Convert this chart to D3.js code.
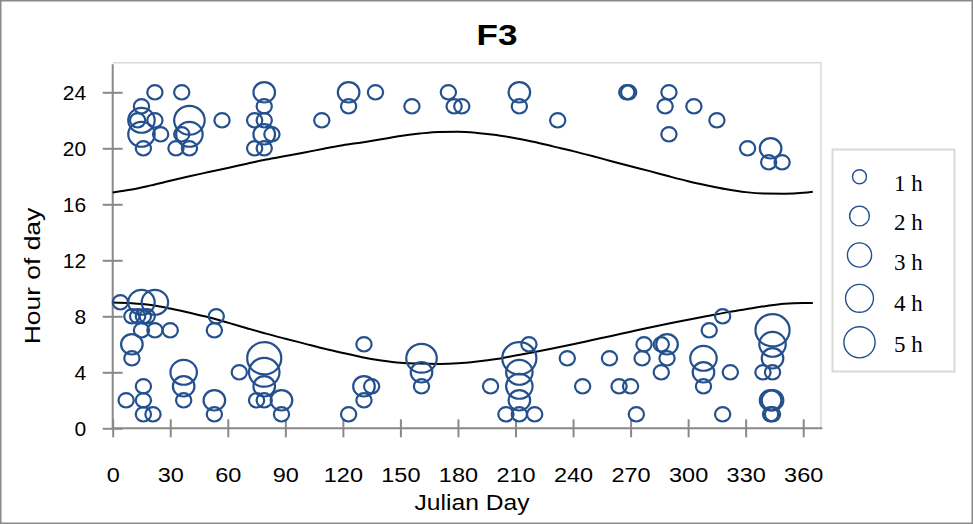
<!DOCTYPE html>
<html>
  <head>
    <meta charset="utf-8">
    <style>
      body { margin: 0; background: #ffffff; }
      svg { display: block; }
    </style>
  </head>
  <body>

    <script type="text/javascript" src="https://cdn.jsdelivr.net/npm/d3@7/dist/d3.min.js"></script>

    <script>

    // *** DATA ***

    // Bubbles: julian day, hour of day, duration (h)
    var bubbleDays = [
      22, 36, 79, 123, 15, 79, 123,
      13, 15, 22, 40, 57, 74, 79, 109,
      15, 25, 36, 40, 79, 83,
      16, 33, 40, 74, 79,
      137, 156, 175, 178, 182, 212, 212, 232,
      268, 269, 290, 288, 303, 315, 290, 331, 343, 342, 349,
      4, 15, 22,
      10, 13, 16, 18, 54,
      15, 22, 30, 53,
      10, 10,
      37, 37, 37, 66,
      79, 79, 79, 75, 79, 88, 88,
      53, 53,
      7, 16, 16, 16, 21,
      123,
      131, 131, 135, 131,
      161, 161, 161,
      197,
      212, 212, 212, 212, 212, 205, 220, 217,
      237, 245,
      259, 264, 270, 273,
      277, 276,
      286, 289, 289, 286,
      311, 318,
      308, 308, 308,
      322, 318,
      344, 344, 344, 339, 344,
      343, 344, 343, 344
    ];
    var bubbleHours = [
      24, 24, 24, 24, 23, 23, 23,
      22, 22, 22, 22, 22, 22, 22, 22,
      21, 21, 21, 21, 21, 21,
      20, 20, 20, 20, 20,
      24, 23, 24, 23, 23, 24, 23, 22,
      24, 24, 24, 23, 23, 22, 21, 20, 20, 19, 19,
      9, 9, 9,
      8, 8, 8, 8, 8,
      7, 7, 7, 7,
      6, 5,
      4, 3, 2, 4,
      5, 4, 3, 2, 2, 2, 1,
      2, 1,
      2, 3, 2, 1, 1,
      1,
      6, 3, 3, 2,
      5, 4, 3,
      3,
      5, 4, 3, 2, 1, 1, 1, 6,
      5, 3,
      5, 3, 3, 1,
      6, 5,
      6, 6, 5, 4,
      7, 8,
      5, 4, 3,
      4, 1,
      7, 6, 5, 4, 4,
      2, 2, 1, 1
    ];
    var bubbleDurations = [
      1, 1, 2, 2, 1, 1, 1,
      1, 3, 1, 4, 1, 1, 1, 1,
      3, 1, 1, 3, 2, 1,
      1, 1, 1, 1, 1,
      1, 1, 1, 1, 1, 2, 1, 1,
      1, 1, 1, 1, 1, 1, 1, 1, 2, 1, 1,
      1, 3, 3,
      1, 1, 1, 1, 1,
      1, 1, 1, 1,
      2, 1,
      3, 2, 1, 1,
      5, 4, 2, 1, 1, 2, 1,
      2, 1,
      1, 1, 1, 1, 1,
      1,
      1, 2, 1, 1,
      4, 2, 1,
      1,
      5, 3, 3, 2, 1, 1, 1, 1,
      1, 1,
      1, 1, 1, 1,
      1, 1,
      1, 2, 1, 1,
      1, 1,
      3, 2, 1,
      1, 1,
      5, 3, 2, 1, 1,
      2, 2, 1, 1
    ];

    // Sunrise / sunset curves (hour of day)
    var lineDays = [0, 10, 20, 30, 40, 50, 60, 70, 80, 90, 100, 110, 120, 130, 140, 150, 160, 170, 180,
                    190, 200, 210, 220, 230, 240, 250, 260, 270, 280, 290, 300, 310, 320, 330, 340, 350, 360, 365];
    var sunriseHours = [8.98, 8.93, 8.80, 8.55, 8.25, 7.93, 7.55, 7.15, 6.76, 6.40, 6.05, 5.70, 5.38, 5.08, 4.85, 4.68, 4.62, 4.60, 4.64,
                        4.77, 4.95, 5.20, 5.45, 5.72, 6.00, 6.30, 6.60, 6.90, 7.20, 7.48, 7.75, 8.02, 8.28, 8.50, 8.72, 8.90, 8.95, 8.95];
    var sunsetHours = [16.85, 17.05, 17.35, 17.68, 18.00, 18.30, 18.60, 18.90, 19.20, 19.45, 19.70, 19.97, 20.22, 20.42, 20.64, 20.88, 21.05, 21.17, 21.18,
                       21.10, 20.95, 20.72, 20.45, 20.12, 19.80, 19.45, 19.08, 18.72, 18.37, 18.00, 17.65, 17.35, 17.08, 16.87, 16.77, 16.76, 16.82, 16.90];

    // Ticks and legend
    var xTicks = [0, 30, 60, 90, 120, 150, 180, 210, 240, 270, 300, 330, 360];
    var yTicks = [0, 4, 8, 12, 16, 20, 24];
    var legendDurations = [1, 2, 3, 4, 5];
    var legendLabels = ['1 h', '2 h', '3 h', '4 h', '5 h'];

    // *** LAYOUT ***

    var W = 973, H = 524;
    var plotLeft = 112.7, plotRight = 822.4, plotTop = 64.3, plotBottom = 428.3;
    var axisColor = '#898989';
    var bubbleColor = '#24508e';
    var textStretch = 1.12;   // the picture is a bit wider than normal type
    var sansFont = '"Liberation Sans", Arial, sans-serif';

    var x = d3.scaleLinear().domain([0, 370]).range([plotLeft, plotRight]);
    var y = d3.scaleLinear().domain([0, 26]).range([plotBottom, plotTop]);
    var rScale = d3.scaleSqrt().domain([0, 5]).range([0, 16.1]);

    var svg = d3.select('body').append('svg')
      .attr('width', W)
      .attr('height', H);

    svg.append('rect')
      .attr('width', W).attr('height', H)
      .style('fill', '#ffffff');

    // outer chart border
    svg.append('rect')
      .attr('x', 0.75).attr('y', 0.75)
      .attr('width', W - 1.5).attr('height', H - 1.5)
      .style('fill', 'none')
      .style('stroke', axisColor)
      .style('stroke-width', 1.5);

    // plot area frame (top and right)
    svg.append('path')
      .attr('d', 'M' + plotLeft + ',' + (plotTop - 1.5) + 'H' + (plotRight - 1.5) + 'V' + plotBottom)
      .style('fill', 'none')
      .style('stroke', '#d9d9d9')
      .style('stroke-width', 1.5);

    // TITLE
    svg.append('text')
      .attr('transform', 'translate(497,44.5) scale(1.17,1)')
      .attr('text-anchor', 'middle')
      .style('font-family', sansFont)
      .style('font-weight', 'bold')
      .style('font-size', '30px')
      .text('F3');

    // AXES
    var xAxis = svg.append('g')
      .attr('transform', 'translate(0,' + plotBottom + ')')
      .call(d3.axisBottom(x).tickValues(xTicks).tickSize(9).tickFormat(d3.format('d')));
    xAxis.select('.domain').attr('d', 'M' + plotLeft + ',0H' + plotRight);
    xAxis.selectAll('.tick line').attr('y1', -9).attr('y2', 9);
    xAxis.selectAll('.tick text')
      .attr('y', 0).attr('dy', 0)
      .attr('transform', 'translate(0,53.5) scale(' + textStretch + ',1)');

    var yAxis = svg.append('g')
      .attr('transform', 'translate(' + plotLeft + ',0)')
      .call(d3.axisLeft(y).tickValues(yTicks).tickSize(10));
    yAxis.select('.domain').attr('d', 'M0,' + plotTop + 'V' + plotBottom);
    yAxis.selectAll('.tick line').attr('x1', -10).attr('x2', 10);
    yAxis.selectAll('.tick text').attr('x', -26.5).attr('dy', '0.36em');

    svg.selectAll('.domain, .tick line')
      .style('stroke', axisColor)
      .style('stroke-width', 2);
    svg.selectAll('.tick text')
      .style('font-family', sansFont)
      .style('font-size', '21px')
      .style('fill', '#000000');

    // axis titles
    svg.append('text')
      .attr('transform', 'translate(472,510) scale(' + textStretch + ',1)')
      .attr('text-anchor', 'middle')
      .style('font-family', sansFont)
      .style('font-size', '22px')
      .text('Julian Day');

    svg.append('text')
      .attr('transform', 'translate(40,276) rotate(-90) scale(1.2,1)')
      .attr('text-anchor', 'middle')
      .style('font-family', sansFont)
      .style('font-size', '22px')
      .text('Hour of day');

    // SUNRISE / SUNSET LINES
    var line = d3.line()
      .x(function(d){ return x(d[0]); })
      .y(function(d){ return y(d[1]); })
      .curve(d3.curveMonotoneX);

    [sunriseHours, sunsetHours].forEach(function(series){
      svg.append('path')
        .datum(lineDays.map(function(d, ii){ return [d, series[ii]]; }))
        .attr('d', line)
        .style('fill', 'none')
        .style('stroke', '#000000')
        .style('stroke-width', 2);
    });

    // BUBBLES
    var bubbles = bubbleDays.map(function(d, ii){
      return { day: d, hour: bubbleHours[ii], dur: bubbleDurations[ii] };
    });

    svg.append('g').selectAll('ellipse').data(bubbles)
      .enter()
      .append('ellipse')
        .attr('cx', function(d){ return x(d.day); })
        .attr('cy', function(d){ return y(d.hour); })
        .attr('rx', function(d){ return rScale(d.dur) * 1.06; })
        .attr('ry', function(d){ return rScale(d.dur); })
        .style('fill', 'none')
        .style('stroke', bubbleColor)
        .style('stroke-width', 2.2);

    // LEGEND
    svg.append('rect')
      .attr('x', 832.5).attr('y', 149.5)
      .attr('width', 122).attr('height', 222)
      .style('fill', '#ffffff')
      .style('stroke', '#d9d9d9')
      .style('stroke-width', 2);

    var legendY = [176.7, 216, 255, 298.3, 342.3];
    var legendTextY = [191, 229.5, 270, 311, 352];

    var leg = svg.append('g').selectAll('g').data(legendDurations)
      .enter().append('g');

    leg.append('circle')
      .attr('cx', 859.5)
      .attr('cy', function(d, ii){ return legendY[ii]; })
      .attr('r', function(d){ return rScale(d) * 0.97; })
      .style('fill', 'none')
      .style('stroke', bubbleColor)
      .style('stroke-width', 1.4);

    leg.append('text')
      .attr('x', 894)
      .attr('y', function(d, ii){ return legendTextY[ii]; })
      .style('font-family', '"Liberation Serif", "Times New Roman", serif')
      .style('font-size', '23px')
      .text(function(d, ii){ return legendLabels[ii]; });

    </script>
  </body>
</html>
